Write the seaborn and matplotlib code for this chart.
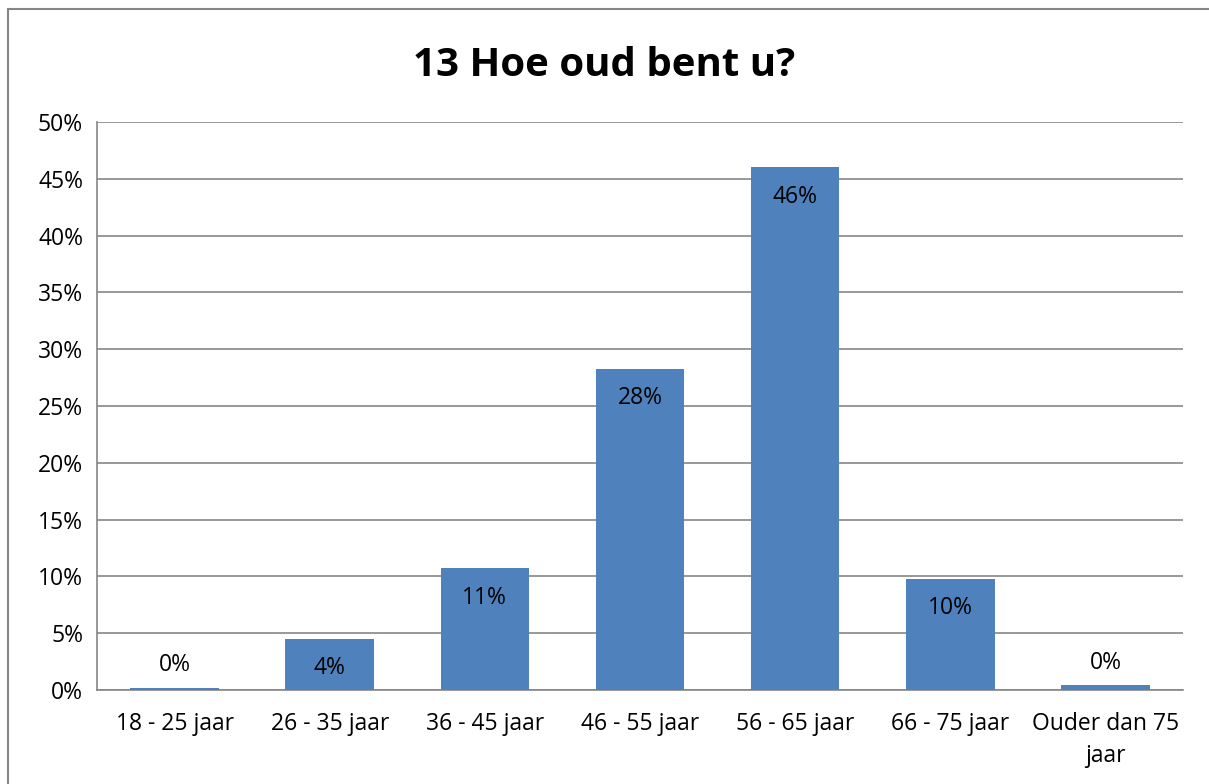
import matplotlib.pyplot as plt
import matplotlib.patches as mpatches
import pandas as pd
import seaborn as sns

categories = ['18 - 25 jaar', '26 - 35 jaar', '36 - 45 jaar', '46 - 55 jaar',
              '56 - 65 jaar', '66 - 75 jaar', 'Ouder dan 75\njaar']
values = [0.2, 4.5, 10.7, 28.3, 46.0, 9.8, 0.4]
labels = ['0%', '4%', '11%', '28%', '46%', '10%', '0%']
yticks = [0, 5, 10, 15, 20, 25, 30, 35, 40, 45, 50]

df = pd.DataFrame({'leeftijd': categories, 'pct': values})

sns.set_style('white')
plt.rcParams['font.family'] = ['Open Sans', 'DejaVu Sans']
plt.rcParams['text.color'] = 'black'
plt.rcParams['xtick.color'] = 'black'
plt.rcParams['ytick.color'] = 'black'

fig = plt.figure(figsize=(12.09, 7.84), dpi=100)
ax = fig.add_axes([97 / 1209, 1 - 690 / 784, (1183 - 97) / 1209, (690 - 122) / 784])

sns.barplot(data=df, x='leeftijd', y='pct', color='#4F81BD', width=0.57,
            saturation=1, linewidth=0, ax=ax, zorder=3)

ax.set_ylim(0, 50)
ax.set_yticks(yticks)
ax.set_yticklabels([f'{t}%' for t in yticks], fontsize=16.5)
ax.set_xticks(range(len(categories)))
ax.set_xticklabels(categories, fontsize=16.5, linespacing=1.45)
ax.tick_params(axis='x', length=0, pad=16)
ax.tick_params(axis='y', length=0, pad=10)
ax.yaxis.grid(True, color='#868686', linewidth=1.2, zorder=0)
ax.set_xlabel('')
ax.set_ylabel('')
for s in ['top', 'right']:
    ax.spines[s].set_visible(False)
for s in ['left', 'bottom']:
    ax.spines[s].set_color('#868686')
    ax.spines[s].set_linewidth(1.2)

for i, (v, lab) in enumerate(zip(values, labels)):
    if v > 3:
        ax.text(i, v - 2.6, lab, ha='center', va='center', fontsize=16.5, zorder=4)
    else:
        ax.text(i, v + 2.0, lab, ha='center', va='center', fontsize=16.5, zorder=4)

fig.text(0.5, 1 - 66 / 784, '13 Hoe oud bent u?', ha='center', va='center',
         fontsize=29, fontweight='bold')

fig.patches.append(mpatches.Rectangle((8 / 1209, -0.05), 1.2, 1 - 9 / 784 + 0.05,
                                      transform=fig.transFigure, fill=False,
                                      edgecolor='#868686', linewidth=1.5))

fig.savefig('out.png', dpi=100)
